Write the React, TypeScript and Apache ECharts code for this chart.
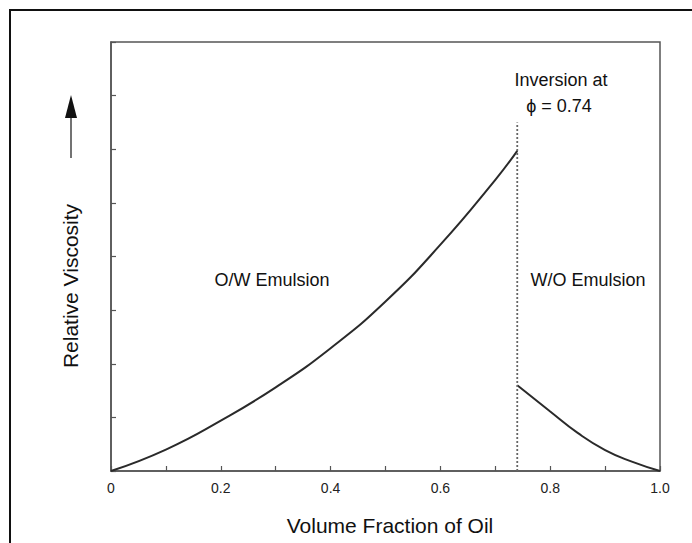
import React, { useEffect, useRef } from "react";
import * as echarts from "echarts";

// O/W emulsion branch (volume fraction of oil vs relative viscosity)
const owX = [0, 0.1, 0.2, 0.3, 0.4, 0.5, 0.6, 0.7, 0.74];
const owY = [0, 0.4, 0.94, 1.56, 2.29, 3.16, 4.22, 5.43, 5.97];
// W/O emulsion branch
const woX = [0.74, 0.8, 0.85, 0.9, 0.95, 1.0];
const woY = [1.6, 1.11, 0.71, 0.39, 0.17, 0];
// inversion marker
const inversionX = 0.74;
const inversionTop = 6.5;
// x tick labels (every 0.2)
const xTickLabels: Record<number, string> = { 0: "0", 2: "0.2", 4: "0.4", 6: "0.6", 8: "0.8", 10: "1.0" };

const FONT = "'Liberation Sans', Arial, Helvetica, sans-serif";

export default function App() {
  const ref = useRef<HTMLDivElement>(null);
  useEffect(() => {
    document.body.style.margin = "0";
    if (!ref.current) return;
    const chart = echarts.init(ref.current, undefined, { renderer: "svg" });
    const axisColor = "#555";
    chart.setOption({
      animation: false,
      backgroundColor: "#fff",
      grid: {
        left: 111,
        right: 32,
        top: 42,
        bottom: 72,
        show: true,
        borderColor: axisColor,
        borderWidth: 1.5,
      },
      xAxis: {
        type: "value",
        min: 0,
        max: 1,
        interval: 0.1,
        axisLine: { show: true, lineStyle: { color: axisColor, width: 1.5 } },
        axisTick: { show: true, inside: true, length: 5, lineStyle: { color: axisColor, width: 1.2 } },
        axisLabel: {
          margin: 10,
          color: "#222",
          fontSize: 14,
          fontFamily: FONT,
          formatter: (v: number) => xTickLabels[Math.round(v * 10)] ?? "",
        },
        splitLine: { show: false },
      },
      yAxis: {
        type: "value",
        min: 0,
        max: 8,
        interval: 1,
        axisLine: { show: true, lineStyle: { color: axisColor, width: 1.5 } },
        axisTick: { show: true, inside: true, length: 5, lineStyle: { color: axisColor, width: 1.2 } },
        axisLabel: { show: false },
        splitLine: { show: false },
      },
      series: [
        {
          type: "line",
          data: owX.map((x, i) => [x, owY[i]]),
          smooth: true,
          showSymbol: false,
          lineStyle: { color: "#2a2a2a", width: 2 },
        },
        {
          type: "line",
          data: woX.map((x, i) => [x, woY[i]]),
          smooth: true,
          showSymbol: false,
          lineStyle: { color: "#2a2a2a", width: 2 },
        },
        {
          type: "line",
          data: [
            [inversionX, 0],
            [inversionX, inversionTop],
          ],
          showSymbol: false,
          lineStyle: { color: "#666", width: 1.8, type: [2, 2] },
        },
      ],
      graphic: [
        {
          type: "rect",
          shape: { x: 10, y: 10, width: 720, height: 580 },
          style: { fill: "none", stroke: "#111", lineWidth: 2 },
          silent: true,
        },
        {
          type: "text",
          x: 561,
          y: 80,
          style: { text: "Inversion at", font: `18px ${FONT}`, fill: "#111", align: "center", verticalAlign: "middle" },
        },
        {
          type: "text",
          x: 559,
          y: 106,
          style: { text: "ϕ = 0.74", font: `18px ${FONT}`, fill: "#111", align: "center", verticalAlign: "middle" },
        },
        {
          type: "text",
          x: 272,
          y: 280,
          style: { text: "O/W Emulsion", font: `18px ${FONT}`, fill: "#111", align: "center", verticalAlign: "middle" },
        },
        {
          type: "text",
          x: 588,
          y: 280,
          style: { text: "W/O Emulsion", font: `18px ${FONT}`, fill: "#111", align: "center", verticalAlign: "middle" },
        },
        {
          type: "text",
          x: 390,
          y: 525,
          style: { text: "Volume Fraction of Oil", font: `21px ${FONT}`, fill: "#111", align: "center", verticalAlign: "middle" },
        },
        {
          type: "text",
          x: 70,
          y: 286,
          rotation: Math.PI / 2,
          style: { text: "Relative Viscosity", font: `21px ${FONT}`, fill: "#111", align: "center", verticalAlign: "middle" },
        },
        {
          type: "line",
          shape: { x1: 71, y1: 158, x2: 71, y2: 116 },
          style: { stroke: "#444", lineWidth: 1.5 },
        },
        {
          type: "polygon",
          shape: { points: [[65, 118], [77, 118], [71, 95]] },
          style: { fill: "#111" },
        },
      ],
    });
    return () => chart.dispose();
  }, []);
  return <div ref={ref} style={{ width: 692, height: 543 }} />;
}
